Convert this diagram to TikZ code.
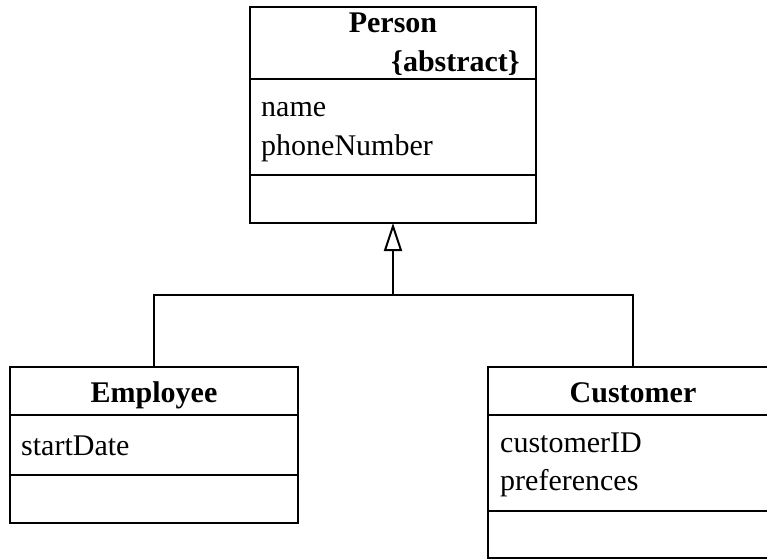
\documentclass[tikz,border=0pt]{standalone}
\usepackage{fontspec}
\setmainfont{Liberation Serif}
\usetikzlibrary{arrows.meta}
\tikzset{
  comp/.style={draw=black, line width=2pt, rectangle, inner sep=0pt, outer sep=0pt, anchor=north west},
  title/.style={font=\fontsize{30}{38}\selectfont\bfseries, inner sep=0pt, anchor=base},
  attr/.style={font=\fontsize{30}{38}\selectfont, inner sep=0pt, anchor=base west},
  conn/.style={line width=2pt, line join=miter},
  gen/.style={conn, -{Triangle[open, length=28pt, width=18pt, line width=2pt]}}
}
\begin{document}
\begin{tikzpicture}[x=1pt, y=-1pt]
  \useasboundingbox (0,0) rectangle (767,559);
  % Person
  \node[comp, minimum width=286pt, minimum height=72pt] (pname) at (250,7) {};
  \node[comp, minimum width=286pt, minimum height=96pt] (pattr) at (250,79) {};
  \node[comp, minimum width=286pt, minimum height=48pt] (pops)  at (250,175) {};
  \node[title] (ptitle) at (393,33) {Person};
  \node[title, anchor=base east] (pabs) at (520,72) {\{abstract\}};
  \node[attr] (pa1) at (261,117) {name};
  \node[attr] (pa2) at (261,155) {phoneNumber};
  % Employee
  \node[comp, minimum width=288pt, minimum height=48pt] (ename) at (10,367) {};
  \node[comp, minimum width=288pt, minimum height=60pt] (eattr) at (10,415) {};
  \node[comp, minimum width=288pt, minimum height=48pt] (eops)  at (10,475) {};
  \node[title] (etitle) at (154,402) {Employee};
  \node[attr] (ea1) at (21,455) {startDate};
  % Customer
  \node[comp, minimum width=290pt, minimum height=48pt] (cname) at (488,367) {};
  \node[comp, minimum width=290pt, minimum height=96pt] (cattr) at (488,415) {};
  \node[comp, minimum width=290pt, minimum height=47pt] (cops)  at (488,511) {};
  \node[title] (ctitle) at (633,402) {Customer};
  \node[attr] (ca1) at (500,452) {customerID};
  \node[attr] (ca2) at (500,490) {preferences};
  % Generalization
  \coordinate (junc) at (393,295);
  \draw[conn] (ename.north) |- (junc) -| (cname.north);
  \draw[gen] (junc) -- (pops.south);
\end{tikzpicture}
\end{document}
